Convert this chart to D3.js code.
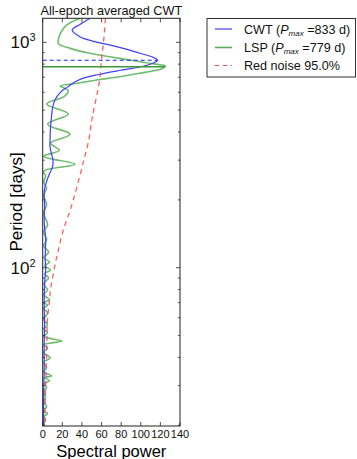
<!DOCTYPE html>
<html><head><meta charset="utf-8">
<script src="https://cdn.jsdelivr.net/npm/d3@7"></script>
<style>body{margin:0;background:#fff}svg{display:block}text{font-family:"Liberation Sans",Arial,sans-serif}</style>
</head><body>
<svg id="c" width="357" height="459"></svg>
<script>
// CWT averaged power: [period (days), power]
const cwtPeriod = [1275,1200,1134,1059,1010,972,930,894,860,833,810,779,750,720,690,660,636,600,555,510,468,420,370,343,320,300,280,262,245,230,214,190,160,133,110,100,85,70,55,45,35,28,20];
const cwtPower  = [48,38,30,38,52,69,86,99,112,117,113,100,78,57,40,31,26,18,12.5,10,9,8,7.5,7.5,9,10.5,10,7,4.5,2.5,1.5,2,1.5,3,2.5,3,2,1.5,2,1.5,1.5,1,1];
// Lomb-Scargle periodogram
const lspPeriod = [1275,1190,1096,990,940,894,860,834,800,785,765,750,729,700,681,655,640,612,575,532,481,433,391,357,332,312,288,268,255,240,225,210,190,175,155,145,133,125,117,111,106,102,97.7,94,90,85,79.6,76,72,70,68.4,66,63,59,55.7,53.5,51.4,49.5,47.3,45.5,44,42,39.8,38,36,34.5,33.1,32.5,31.5,30.5,29.6,28,26.7,25.5,24.2,23.2,22.5,21.8,21.1,20.5,20];
const lspPower  = [38,24,18,16,28,48,70,89,115,125,122,115,99,75,55,32,18,26,22,4,26,5,28,8,17,1,33,1,3,1,4,1,4,1,5,1,4,1,6,1,7,2,8,2,6,1,5,1,7,1,5,1,5,1,5,1,5,1,19.5,1,5,1,7.5,1,4,1,9,2,7,1,4,1,3,1,4,1,5,1,3,1,2];
// Red noise 95% level
const redPeriod = [1275,1000,841,679,500,451,368,300,221,180,147,120,100,80,72,60,43,30,20];
const redPower  = [64,62,60,58,52,50,47,42,34,28,21,16,12,8,7,5,4,3,2];
const cwtPmax = 833, lspPmax = 779;
const xTicks = [0,20,40,60,80,100,120,140];
const yMajor = [100,1000];
const legendLabels = [["CWT (","833"],["LSP (","779"]];
const noiseLabel = "Red noise 95.0%";

const svg = d3.select("#c");
const L=42.7, R=180, T=18.3, B=426;
const x = d3.scaleLinear().domain([0,140]).range([L,R]);
const y = d3.scaleLog().domain([19.85,1278]).range([B,T]);

const cBlue="#3f3fff", cGreen="#55b055", cRed="#ff4444";

svg.append("clipPath").attr("id","pc").append("rect").attr("x",L).attr("y",T).attr("width",R-L).attr("height",B-T);
const g = svg.append("g").attr("clip-path","url(#pc)");

const line = d3.line().x(d=>x(d[1])).y(d=>y(d[0])).curve(d3.curveCatmullRom.alpha(0.5));

g.append("path").datum(lspPeriod.map((p,i)=>[p,lspPower[i]])).attr("d",line)
 .attr("fill","none").attr("stroke",cGreen).attr("stroke-opacity",0.85).attr("stroke-width",1.6);
g.append("path").datum(cwtPeriod.map((p,i)=>[p,cwtPower[i]])).attr("d",line)
 .attr("fill","none").attr("stroke",cBlue).attr("stroke-width",1.2);
g.append("path").datum(redPeriod.map((p,i)=>[p,redPower[i]])).attr("d",line)
 .attr("fill","none").attr("stroke",cRed).attr("stroke-opacity",0.85).attr("stroke-width",1.3).attr("stroke-dasharray","5,4");

// Pmax markers
g.append("line").attr("x1",x(0)).attr("x2",x(d3.max(cwtPower))).attr("y1",y(cwtPmax)).attr("y2",y(cwtPmax))
 .attr("stroke","#2020ff").attr("stroke-width",1.1).attr("stroke-dasharray","4,3");
g.append("line").attr("x1",x(0)).attr("x2",x(d3.max(lspPower))).attr("y1",y(lspPmax)).attr("y2",y(lspPmax))
 .attr("stroke","#3a9a3a").attr("stroke-width",1.7);

// frame
svg.append("rect").attr("x",L).attr("y",T).attr("width",R-L).attr("height",B-T).attr("fill","none").attr("stroke","#222").attr("stroke-width",1);

// ticks
const tk = svg.append("g").attr("stroke","#222").attr("stroke-width",0.8);
xTicks.forEach(v=>{
  tk.append("line").attr("x1",x(v)).attr("x2",x(v)).attr("y1",B).attr("y2",B-4);
  tk.append("line").attr("x1",x(v)).attr("x2",x(v)).attr("y1",T).attr("y2",T+4);
});
const minors=[];
[10,100,1000].forEach(b=>{for(let k=2;k<=9;k++){const v=b*k; if(v>=19.85&&v<=1278) minors.push(v);}});
minors.forEach(v=>{
  tk.append("line").attr("x1",L).attr("x2",L+2).attr("y1",y(v)).attr("y2",y(v));
  tk.append("line").attr("x1",R).attr("x2",R-2).attr("y1",y(v)).attr("y2",y(v));
});
yMajor.forEach(v=>{
  tk.append("line").attr("x1",L).attr("x2",L+4).attr("y1",y(v)).attr("y2",y(v));
  tk.append("line").attr("x1",R).attr("x2",R-4).attr("y1",y(v)).attr("y2",y(v));
});

// tick labels
svg.append("g").selectAll("text").data(xTicks).join("text")
 .attr("x",d=>x(d)).attr("y",438).attr("text-anchor","middle").attr("font-size",11).attr("fill","#111").text(d=>d);
yMajor.forEach(v=>{
  const t = svg.append("text").attr("x",35.5).attr("y",y(v)+6).attr("text-anchor","end").attr("font-size",17).attr("fill","#111");
  t.append("tspan").text("10");
  t.append("tspan").attr("font-size",11).attr("dy",-7).text(String(Math.round(Math.log10(v))));
});

// labels
svg.append("text").attr("x",(L+R)/2).attr("y",15).attr("text-anchor","middle").attr("font-size",12.7).attr("fill","#111").text("All-epoch averaged CWT");
svg.append("text").attr("x",(L+R)/2).attr("y",457).attr("text-anchor","middle").attr("font-size",16.5).attr("fill","#000").text("Spectral power");
svg.append("text").attr("transform","translate(22,202) rotate(-90)").attr("text-anchor","middle").attr("font-size",17).attr("fill","#000").text("Period [days]");

// legend
const lg = svg.append("g");
lg.append("rect").attr("x",207).attr("y",18.5).attr("width",148.5).attr("height",58.5).attr("fill","#fff").attr("stroke","#333").attr("stroke-width",1);
const rows=[29,47.5,65.5];
const cols=[cBlue,cGreen,cRed];
rows.forEach((ry,i)=>{
  lg.append("line").attr("x1",215).attr("x2",232).attr("y1",ry).attr("y2",ry).attr("stroke",cols[i]).attr("stroke-width",i==1?1.6:1.2)
    .attr("stroke-dasharray",i==2?"4,4":null);
});
legendLabels.forEach((lab,i)=>{
  const t=lg.append("text").attr("x",244).attr("y",rows[i]+4.5).attr("font-size",12.6).attr("fill","#111");
  t.append("tspan").text(lab[0]);
  t.append("tspan").attr("font-style","italic").text("P");
  t.append("tspan").attr("font-style","italic").attr("font-size",8).attr("dy",2).text("max");
  t.append("tspan").attr("dy",-2).text(" =" + lab[1] + " d)");
});
lg.append("text").attr("x",244).attr("y",rows[2]+4.5).attr("font-size",12.6).attr("fill","#111").text(noiseLabel);
</script>
</body></html>
